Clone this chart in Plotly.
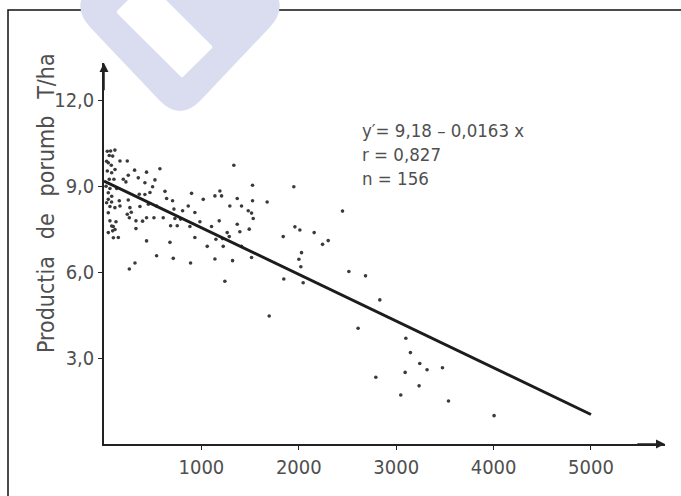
import plotly.graph_objects as go

# Observed field points: x (horizontal variable), y = yield (T/ha)
x_vals = [
    68, 112, 54, 89, 164, 239, 44, 75, 574, 1333,
    34, 249, 314, 437, 352, 54, 102, 198, 225,
    420, 523, 1525, 61, 130, 499, 626, 472, 420, 362,
    899, 1190, 1139, 1207, 643, 704, 1019, 1368, 1525, 1675,
    44, 78, 157, 249, 61, 112, 164, 266, 369, 455,
    540, 865, 1292, 1412, 718, 807, 933, 1481, 1515, 239,
    260, 437, 513, 608, 728, 786, 1532, 61, 123, 328,
    396, 985, 1183, 1368, 684, 752, 882, 1104, 1491, 95,
    89, 328, 1265, 1286, 147, 933, 1149, 1217, 1840, 437,
    677, 1060, 1224, 1412, 540, 711, 1139, 1320, 1515,
    318, 260, 889, 1241, 1846,
    34, 27, 79, 113, 21, 44, 79, 27, 44, 79, 113, 44, 96,
    1696, 1949, 2001, 2028, 2021, 2045, 1960, 2011, 2158, 2244,
    2302, 2449, 2514, 2685, 2832, 2609, 3099, 3146, 3242, 3317,
    3475, 3092, 2791, 3235, 3047, 3537, 4005, 1395, 280,
]
y_vals = [
    10.23, 10.26, 10.07, 10.05, 9.88, 9.88, 9.82, 9.73, 9.61, 9.73,
    9.53, 9.38, 9.56, 9.49, 9.29, 9.24, 9.24, 9.24, 9.15,
    9.12, 9.22, 9.03, 8.92, 8.92, 8.98, 8.82, 8.78, 8.71, 8.72,
    8.75, 8.83, 8.66, 8.66, 8.57, 8.49, 8.54, 8.57, 8.49, 8.45,
    8.54, 8.45, 8.49, 8.52, 8.29, 8.25, 8.31, 8.25, 8.29, 8.37,
    8.31, 8.31, 8.31, 8.31, 8.20, 8.14, 8.08, 8.14, 8.06, 8.02,
    7.90, 7.90, 7.90, 7.90, 7.87, 7.85, 7.87, 7.79, 7.76, 7.79,
    7.78, 7.76, 7.79, 7.67, 7.62, 7.62, 7.59, 7.59, 7.50, 7.59,
    7.44, 7.52, 7.38, 7.24, 7.21, 7.21, 7.15, 7.17, 7.24, 7.09,
    7.04, 6.90, 6.90, 6.90, 6.57, 6.48, 6.46, 6.40, 6.51,
    6.32, 6.11, 6.32, 5.68, 5.76,
    10.22, 9.87, 9.47, 9.58, 9.00, 8.77, 8.65, 8.42, 8.07, 7.61, 7.49, 7.38, 7.20,
    4.47, 8.98, 6.45, 6.68, 6.19, 5.63, 7.58, 7.47, 7.38, 6.97,
    7.10, 8.13, 6.02, 5.87, 5.03, 4.04, 3.69, 3.19, 2.81, 2.59,
    2.66, 2.50, 2.33, 2.03, 1.71, 1.50, 0.99, 7.41, 8.09,
]

# Regression  y' = 9,18 - 0,0163 x  (slope given per 10 units of x)
intercept = 9.18
slope_per_10 = 0.0163
line_x = [0, 5000]
line_y = [intercept - slope_per_10 * v / 10 for v in line_x]

x_ticks = [1000, 2000, 3000, 4000, 5000]
x_tick_text = ["1000", "2000", "3000", "4000", "5000"]
y_ticks = [3, 6, 9, 12]
y_tick_text = ["3,0", "6,0", "9,0", "12,0"]

stats_lines = ["y\u2032= 9,18 \u2013 0,0163 x", "r = 0,827", "n = 156"]
y_title = "Productia\u2002 de\u2002 porumb\u2002 T/ha"

X_MAX, Y_MAX = 5760, 13.3
W, H = 681, 496
L, R, T, B = 104, 16, 63, 52
PW, PH = W - L - R, H - T - B

FONT = "Liberation Sans Narrow, DejaVu Sans Condensed, Roboto Condensed, Liberation Sans, sans-serif"
INK = "#222222"
TEXT = "#4f4f4f"


def px(xp):
    return (xp - L) / PW


def py(yp):
    return (H - B - yp) / PH


def rounded_poly(pts, r):
    """Closed SVG path in paper coords with rounded corners (pixel inputs)."""
    n = len(pts)
    segs = []
    for i in range(n):
        p0, p1, p2 = pts[i - 1], pts[i], pts[(i + 1) % n]

        def toward(a, b, d):
            dx, dy = b[0] - a[0], b[1] - a[1]
            ln = (dx * dx + dy * dy) ** 0.5
            return (a[0] + dx / ln * d, a[1] + dy / ln * d)

        a = toward(p1, p0, r)
        b = toward(p1, p2, r)
        segs.append(("L" if segs else "M") + f"{px(a[0])},{py(a[1])}")
        segs.append(f"Q{px(p1[0])},{py(p1[1])} {px(b[0])},{py(b[1])}")
    return " ".join(segs) + " Z"


fig = go.Figure()
fig.add_trace(go.Scatter(
    x=x_vals, y=y_vals, mode="markers",
    marker=dict(size=3.6, color="#3a3a3a"),
    showlegend=False, hoverinfo="skip",
))
fig.add_trace(go.Scatter(
    x=line_x, y=line_y, mode="lines",
    line=dict(color="#1c1c1c", width=3),
    showlegend=False, hoverinfo="skip",
))

shapes = [
    # page frame
    dict(type="path", xref="paper", yref="paper",
         path=f"M{px(8)},{py(520)} L{px(8)},{py(10)} L{px(700)},{py(10)}",
         line=dict(color="#111111", width=1.5), layer="above"),
    # logo mark
    dict(type="path", xref="paper", yref="paper",
         path=rounded_poly([(70, 6), (180, 122), (290, 6), (180, -110)], 30),
         fillcolor="#dadcf0", line=dict(width=0), layer="above"),
    dict(type="path", xref="paper", yref="paper",
         path=rounded_poly([(116, 12), (182, 78), (213, 47), (147, -19)], 2),
         fillcolor="#ffffff", line=dict(width=0), layer="above"),
]

annotations = [
    # axis arrows
    dict(x=X_MAX, y=0, ax=X_MAX - 300, ay=0, xref="x", yref="y", axref="x", ayref="y",
         showarrow=True, arrowhead=2, arrowsize=1.2, arrowwidth=1.5, arrowcolor=INK, text=""),
    dict(x=0, y=Y_MAX, ax=0, ay=Y_MAX - 1, xref="x", yref="y", axref="x", ayref="y",
         showarrow=True, arrowhead=2, arrowsize=1.2, arrowwidth=1.5, arrowcolor=INK, text=""),
    dict(x=px(46), y=py(203), xref="paper", yref="paper", text=y_title, textangle=-90,
         showarrow=False, xanchor="center", yanchor="middle",
         font=dict(family=FONT, size=23, color=TEXT)),
    dict(x=px(360), y=py(118), xref="paper", yref="paper", text="<br>".join(stats_lines),
         showarrow=False, xanchor="left", yanchor="top", align="left",
         font=dict(family=FONT, size=18.5, color=TEXT)),
]

fig.update_layout(
    width=W, height=H,
    margin=dict(l=L, r=R, t=T, b=B),
    paper_bgcolor="white", plot_bgcolor="white",
    shapes=shapes, annotations=annotations,
    xaxis=dict(range=[0, X_MAX], tickvals=x_ticks, ticktext=x_tick_text,
               ticks="outside", ticklen=4, tickcolor=INK, showgrid=False, zeroline=False,
               showline=True, linecolor=INK, linewidth=1.5,
               tickfont=dict(family=FONT, size=20, color=TEXT)),
    yaxis=dict(range=[0, Y_MAX], tickvals=y_ticks, ticktext=y_tick_text,
               ticks="outside", ticklen=4, tickcolor=INK, showgrid=False, zeroline=False,
               showline=True, linecolor=INK, linewidth=1.5,
               tickfont=dict(family=FONT, size=20, color=TEXT)),
)

fig.write_html("out.html")
